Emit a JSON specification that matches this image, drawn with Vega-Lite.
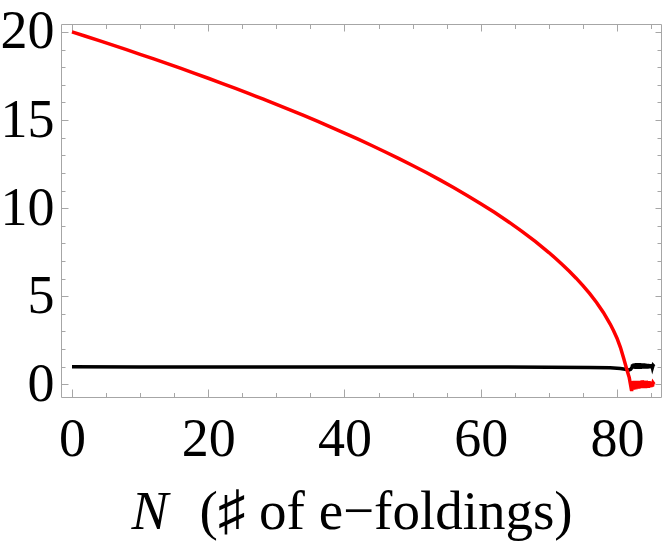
{
  "$schema": "https://vega.github.io/schema/vega-lite/v6.json",
  "autosize": "none",
  "width": 600,
  "height": 373,
  "padding": {"left": 61, "top": 24, "right": 3, "bottom": 145},
  "background": "white",
  "config": {
    "view": {"stroke": "#a6a6a6", "strokeWidth": 1},
    "axis": {"grid": false, "domain": false, "tickColor": "#a6a6a6", "tickWidth": 1, "labelFont": "Liberation Serif", "labelFontSize": 54, "labelColor": "black", "titleFont": "Liberation Serif", "titleFontSize": 55, "titleFontWeight": "normal", "titleColor": "black"}
  },
  "datasets": {
    "red": [
      {"N": 0, "v": 20.0}, {"N": 2, "v": 19.753}, {"N": 4, "v": 19.502}, {"N": 6, "v": 19.249}, {"N": 8, "v": 18.992},
      {"N": 10, "v": 18.731}, {"N": 12, "v": 18.467}, {"N": 14, "v": 18.199}, {"N": 16, "v": 17.927}, {"N": 18, "v": 17.65},
      {"N": 20, "v": 17.37}, {"N": 22, "v": 17.084}, {"N": 24, "v": 16.794}, {"N": 26, "v": 16.499}, {"N": 28, "v": 16.198},
      {"N": 30, "v": 15.892}, {"N": 32, "v": 15.579}, {"N": 34, "v": 15.261}, {"N": 36, "v": 14.935}, {"N": 38, "v": 14.602},
      {"N": 40, "v": 14.262}, {"N": 42, "v": 13.913}, {"N": 44, "v": 13.555}, {"N": 46, "v": 13.187}, {"N": 48, "v": 12.809},
      {"N": 50, "v": 12.42}, {"N": 52, "v": 12.018}, {"N": 54, "v": 11.601}, {"N": 56, "v": 11.17}, {"N": 58, "v": 10.721},
      {"N": 60, "v": 10.252}, {"N": 62, "v": 9.761}, {"N": 64, "v": 9.243}, {"N": 66, "v": 8.696}, {"N": 68, "v": 8.11},
      {"N": 70, "v": 7.48}, {"N": 71, "v": 7.144}, {"N": 72, "v": 6.791}, {"N": 73, "v": 6.419}, {"N": 74, "v": 6.024},
      {"N": 75, "v": 5.601}, {"N": 76, "v": 5.144}, {"N": 77, "v": 4.642}, {"N": 78, "v": 4.078}, {"N": 79, "v": 3.423},
      {"N": 79.5, "v": 3.043}, {"N": 80, "v": 2.62}, {"N": 80.5, "v": 2.1}, {"N": 81, "v": 1.45}, {"N": 81.4, "v": 0.9},
      {"N": 81.8, "v": 0.38}, {"N": 82.0, "v": -0.05}, {"N": 82.15, "v": -0.38}, {"N": 82.3, "v": 0.18},
      {"N": 82.4, "v": -0.3}, {"N": 82.5, "v": 0.2}, {"N": 82.6, "v": -0.28}, {"N": 82.7, "v": 0.2}, {"N": 82.8, "v": -0.27},
      {"N": 82.9, "v": 0.18}, {"N": 83.0, "v": -0.25}, {"N": 83.1, "v": 0.2}, {"N": 83.2, "v": -0.24}, {"N": 83.3, "v": 0.18},
      {"N": 83.4, "v": -0.22}, {"N": 83.5, "v": 0.2}, {"N": 83.6, "v": -0.2}, {"N": 83.7, "v": 0.22}, {"N": 83.8, "v": -0.22},
      {"N": 83.9, "v": 0.2}, {"N": 84.0, "v": -0.2}, {"N": 84.1, "v": 0.18}, {"N": 84.2, "v": -0.22}, {"N": 84.3, "v": 0.2},
      {"N": 84.4, "v": -0.2}, {"N": 84.5, "v": 0.18}, {"N": 84.6, "v": -0.2}, {"N": 84.7, "v": 0.17}, {"N": 84.8, "v": -0.17},
      {"N": 84.9, "v": 0.15}, {"N": 85.0, "v": -0.15}, {"N": 85.1, "v": 0.13}, {"N": 85.2, "v": -0.12}, {"N": 85.3, "v": 0.08},
      {"N": 85.45, "v": 0.0}
    ],
    "black": [
      {"N": 0, "v": 1.0}, {"N": 10, "v": 0.98}, {"N": 30, "v": 0.98}, {"N": 50, "v": 0.98}, {"N": 70, "v": 0.975},
      {"N": 76, "v": 0.96}, {"N": 79, "v": 0.94}, {"N": 80.5, "v": 0.9}, {"N": 81.2, "v": 0.86}, {"N": 81.7, "v": 0.8},
      {"N": 82.0, "v": 0.85}, {"N": 82.2, "v": 0.95}, {"N": 82.3, "v": 1.12}, {"N": 82.4, "v": 0.9}, {"N": 82.5, "v": 1.16},
      {"N": 82.6, "v": 0.9}, {"N": 82.7, "v": 1.18}, {"N": 82.8, "v": 0.88}, {"N": 82.9, "v": 1.2}, {"N": 83.0, "v": 0.88},
      {"N": 83.1, "v": 1.18}, {"N": 83.2, "v": 0.9}, {"N": 83.3, "v": 1.2}, {"N": 83.4, "v": 0.88}, {"N": 83.5, "v": 1.18},
      {"N": 83.6, "v": 0.9}, {"N": 83.7, "v": 1.16}, {"N": 83.8, "v": 0.9}, {"N": 83.9, "v": 1.18}, {"N": 84.0, "v": 0.9},
      {"N": 84.1, "v": 1.16}, {"N": 84.2, "v": 0.92}, {"N": 84.3, "v": 1.15}, {"N": 84.4, "v": 0.9}, {"N": 84.5, "v": 1.15},
      {"N": 84.6, "v": 0.92}, {"N": 84.7, "v": 1.14}, {"N": 84.8, "v": 0.92}, {"N": 84.9, "v": 1.13}, {"N": 85.0, "v": 0.93},
      {"N": 85.1, "v": 1.12}, {"N": 85.2, "v": 0.95}, {"N": 85.3, "v": 1.08}, {"N": 85.45, "v": 1.02}
    ]
  },
  "resolve": {"axis": {"x": "independent", "y": "independent"}},
  "layer": [
    {
      "data": {"name": "black"},
      "mark": {"type": "line", "color": "black", "strokeWidth": 3.5, "clip": true},
      "encoding": {
        "x": {"field": "N", "type": "quantitative", "scale": {"domain": [-1.615, 86.46], "nice": false, "zero": false},
          "axis": {"orient": "bottom", "values": [5, 10, 15, 25, 30, 35, 45, 50, 55, 65, 70, 75, 85], "tickSize": -4.5, "labels": false, "title": "N", "titleFontStyle": "italic", "titleX": 70, "titleY": 131, "titleAlign": "left", "titleBaseline": "alphabetic"}},
        "y": {"field": "v", "type": "quantitative", "scale": {"domain": [-0.72, 20.45], "nice": false, "zero": false},
          "axis": {"orient": "left", "values": [1, 2, 3, 4, 6, 7, 8, 9, 11, 12, 13, 14, 16, 17, 18, 19], "tickSize": -4, "labels": false, "title": null}}
      }
    },
    {
      "data": {"name": "red"},
      "mark": {"type": "line", "color": "#ff0000", "strokeWidth": 3.5, "clip": true},
      "encoding": {
        "x": {"field": "N", "type": "quantitative", "scale": {"domain": [-1.615, 86.46], "nice": false, "zero": false},
          "axis": {"orient": "bottom", "values": [0, 20, 40, 60, 80], "ticks": false, "labelPadding": 15, "title": "(♯ of e−foldings)", "titleX": 138, "titleY": 131, "titleAlign": "left", "titleBaseline": "alphabetic"}},
        "y": {"field": "v", "type": "quantitative", "scale": {"domain": [-0.72, 20.45], "nice": false, "zero": false},
          "axis": {"orient": "left", "values": [0, 5, 10, 15, 20], "ticks": false, "labelPadding": 7, "title": null}}
      }
    },
    {
      "data": {"name": "red"},
      "mark": {"type": "point", "opacity": 0},
      "encoding": {
        "x": {"field": "N", "type": "quantitative", "scale": {"domain": [-1.615, 86.46], "nice": false, "zero": false},
          "axis": {"orient": "bottom", "values": [0, 20, 40, 60, 80], "tickSize": -8, "labels": false, "title": null}},
        "y": {"field": "v", "type": "quantitative", "scale": {"domain": [-0.72, 20.45], "nice": false, "zero": false},
          "axis": {"orient": "left", "values": [0, 5, 10, 15, 20], "tickSize": -7, "labels": false, "title": null}}
      }
    },
    {
      "data": {"name": "red"},
      "mark": {"type": "point", "opacity": 0},
      "encoding": {
        "x": {"field": "N", "type": "quantitative", "scale": {"domain": [-1.615, 86.46], "nice": false, "zero": false},
          "axis": {"orient": "top", "values": [0, 20, 40, 60, 80], "tickSize": -7, "labels": false, "title": null}},
        "y": {"field": "v", "type": "quantitative", "scale": {"domain": [-0.72, 20.45], "nice": false, "zero": false},
          "axis": {"orient": "right", "values": [0, 5, 10, 15, 20], "tickSize": -6, "labels": false, "title": null}}
      }
    },
    {
      "data": {"name": "black"},
      "mark": {"type": "point", "opacity": 0},
      "encoding": {
        "x": {"field": "N", "type": "quantitative", "scale": {"domain": [-1.615, 86.46], "nice": false, "zero": false},
          "axis": {"orient": "top", "values": [5, 10, 15, 25, 30, 35, 45, 50, 55, 65, 70, 75, 85], "tickSize": -4.5, "labels": false, "title": null}},
        "y": {"field": "v", "type": "quantitative", "scale": {"domain": [-0.72, 20.45], "nice": false, "zero": false},
          "axis": {"orient": "right", "values": [1, 2, 3, 4, 6, 7, 8, 9, 11, 12, 13, 14, 16, 17, 18, 19], "tickSize": -4, "labels": false, "title": null}}
      }
    }
  ]
}
